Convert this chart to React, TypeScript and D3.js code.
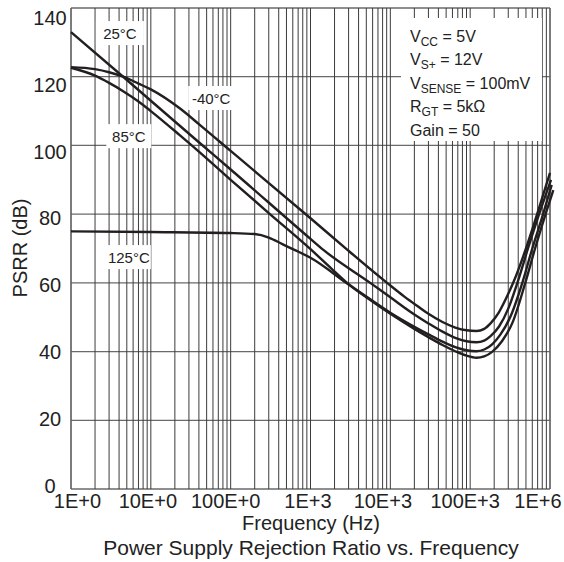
import React from "react";
import * as d3 from "d3";

type Pt = [number, number];

// Frequency (Hz), PSRR (dB)
const psrrM40: Pt[] = [
  [1, 122.8], [2, 122.2], [3, 121.3], [4.5, 120], [7, 118], [10, 116.3], [23, 110.8], [41, 106],
  [100, 98.4], [1000, 78.8], [2900, 69.6], [9100, 60], [1.5e4, 56], [2.2e4, 53.2], [3e4, 51],
  [4.5e4, 48.6], [6.5e4, 47], [9e4, 46.2], [1.2e5, 46], [1.5e5, 46.6], [1.8e5, 48.2],
  [2.3e5, 51.5], [3e5, 56.8], [3.5e5, 60.3], [5e5, 70], [6.9e5, 80], [1e6, 92],
];
const psrr25: Pt[] = [
  [1, 133], [4.5, 120], [10, 113], [41, 100.7], [100, 93], [1000, 72.8], [1450, 69.6],
  [5600, 60], [1e4, 55.8], [2e4, 50.8], [3e4, 48.2], [4.5e4, 45.8], [6.5e4, 44], [9e4, 43],
  [1.2e5, 42.7], [1.5e5, 43.2], [1.8e5, 44.5], [2.3e5, 47.3], [3e5, 52.5], [3.9e5, 60],
  [5.3e5, 70], [7.3e5, 80], [1.03e6, 90],
];
const psrr85: Pt[] = [
  [1, 122.6], [2, 120.3], [3, 118.2], [4.5, 115.8], [7, 112.8], [10, 110], [23, 103], [41, 98],
  [100, 90], [300, 80.3], [1000, 69.8], [1800, 64.3], [2800, 60.2], [5e3, 56], [1e4, 51.3],
  [2e4, 47.2], [3e4, 45], [4.5e4, 42.9], [6.5e4, 41.3], [9e4, 40.4], [1.2e5, 40.1],
  [1.5e5, 40.6], [1.9e5, 42.2], [2.4e5, 45], [3.2e5, 50.2], [4.5e5, 60], [6e5, 70],
  [8.2e5, 80], [1.05e6, 88.5],
];
const psrr125: Pt[] = [
  [1, 75], [10, 74.8], [100, 74.5], [200, 74.2], [300, 73.2], [450, 71.2], [630, 69.6],
  [1000, 67.3], [2800, 60], [5e3, 55.8], [1e4, 51], [2e4, 46.6], [3e4, 44.2], [4.5e4, 41.9],
  [6.5e4, 40.1], [9e4, 38.8], [1.2e5, 38.2], [1.5e5, 38.6], [1.9e5, 40], [2.5e5, 43],
  [3.4e5, 48.5], [4.9e5, 60], [6.5e5, 70], [8.8e5, 80], [1.1e6, 87],
];
const seriesData = [psrrM40, psrr25, psrr85, psrr125];

const curveLabels = ["25°C", "-40°C", "85°C", "125°C"];
// [frequency, dB] anchor of each curve label
const curveLabelAnchors: Pt[] = [[4.1, 132.7], [57, 113.8], [5.3, 102.7], [5.3, 67.5]];

const yTicks = [0, 20, 40, 60, 80, 100, 120, 140];
const xTickValues = [1, 10, 100, 1e3, 1e4, 1e5, 1e6];
const xTickLabels = ["1E+0", "10E+0", "100E+0", "1E+3", "10E+3", "100E+3", "1E+6"];

const legendMain = ["V", "V", "V", "R", "Gain = 50"];
const legendSub = ["CC", "S+", "SENSE", "GT", ""];
const legendRest = [" = 5V", " = 12V", " = 100mV", " = 5kΩ", ""];

const xTitle = "Frequency (Hz)";
const yTitle = "PSRR (dB)";
const chartTitle = "Power Supply Rejection Ratio vs. Frequency";

const FONT = "'Liberation Sans', Arial, Helvetica, sans-serif";

export default function App() {
  const W = 564, H = 562;
  const left = 71, right = 550, top = 8, bottom = 489;
  const x = d3.scaleLog().domain([1, 1e6]).range([left, right]);
  const y = d3.scaleLinear().domain([0, 140]).range([bottom, top]);
  const yLabelPos = d3.scaleLinear().domain([0, 140]).range([485.5, 18]);
  const xLabelNudge = [6.5, -3, -5, -2.5, -7.5, -5, -12];

  const minorX: number[] = [];
  for (let k = 0; k < 6; k++) {
    for (let m = 1; m < 10; m++) minorX.push(m * Math.pow(10, k));
  }
  minorX.push(1e6);

  const line = d3
    .line<Pt>()
    .x((d) => x(d[0]))
    .y((d) => y(d[1]))
    .curve(d3.curveMonotoneX);

  const labelW = [48, 46, 45, 44];

  return (
    <svg
      width={W}
      height={H}
      style={{ position: "absolute", left: 0, top: 0, background: "#fff" }}
      fontFamily={FONT}
    >
      <rect x={0} y={0} width={W} height={H} fill="#fff" />
      {/* horizontal grid */}
      {yTicks.map((t) => (
        <line key={"h" + t} x1={left} x2={right} y1={y(t)} y2={y(t)} stroke="#6a6a6a" strokeWidth={1.3} />
      ))}
      {/* vertical grid */}
      {minorX.map((f, i) => (
        <line key={"v" + i} x1={x(f)} x2={x(f)} y1={top} y2={bottom} stroke="#3c3c3c" strokeWidth={1} />
      ))}
      <line x1={left} x2={left} y1={top} y2={bottom} stroke="#6a6a6a" strokeWidth={1.3} />
      <line x1={right} x2={right} y1={top} y2={bottom} stroke="#6a6a6a" strokeWidth={1.3} />

      {/* legend box */}
      <rect x={401} y={18} width={141} height={123} fill="#fff" />
      <g fontSize={16} fill="#222">
        {legendMain.map((m, i) => (
          <text key={"lg" + i} x={410} y={41.5 + i * 23.5}>
            <tspan>{m}</tspan>
            {legendSub[i] && (
              <tspan dy={4} fontSize={12}>
                {legendSub[i]}
              </tspan>
            )}
            {legendRest[i] && <tspan dy={legendSub[i] ? -4 : 0}>{legendRest[i]}</tspan>}
          </text>
        ))}
      </g>

      {/* curve label backgrounds */}
      {curveLabels.map((l, i) => {
        const cx = x(curveLabelAnchors[i][0]);
        const cy = y(curveLabelAnchors[i][1]);
        return (
          <rect key={"lb" + i} x={cx - labelW[i] / 2} y={cy - 12} width={labelW[i]} height={24} fill="#fff" />
        );
      })}

      {/* curves */}
      {seriesData.map((s, i) => (
        <path key={"s" + i} d={line(s) || ""} fill="none" stroke="#231f20" strokeWidth={2.4} strokeLinejoin="round" />
      ))}

      {/* curve labels */}
      {curveLabels.map((l, i) => (
        <text
          key={"lt" + i}
          x={x(curveLabelAnchors[i][0])}
          y={y(curveLabelAnchors[i][1]) + 5.5}
          fontSize={15}
          textAnchor="middle"
          fill="#222"
        >
          {l}
        </text>
      ))}

      {/* y tick labels */}
      {yTicks.map((t) => (
        <text key={"yt" + t} x={50} y={yLabelPos(t) + 7} fontSize={20} textAnchor="middle" fill="#222">
          {t}
        </text>
      ))}
      {/* x tick labels */}
      {xTickValues.map((f, i) => (
        <text key={"xt" + i} x={x(f) + xLabelNudge[i]} y={508} fontSize={20} textAnchor="middle" fill="#222">
          {xTickLabels[i]}
        </text>
      ))}

      <text x={311} y={530} fontSize={20} textAnchor="middle" fill="#222">
        {xTitle}
      </text>
      <text x={311} y={555} fontSize={21} textAnchor="middle" fill="#222">
        {chartTitle}
      </text>
      <text transform="translate(27,248) rotate(-90)" fontSize={20} textAnchor="middle" fill="#222">
        {yTitle}
      </text>
    </svg>
  );
}
